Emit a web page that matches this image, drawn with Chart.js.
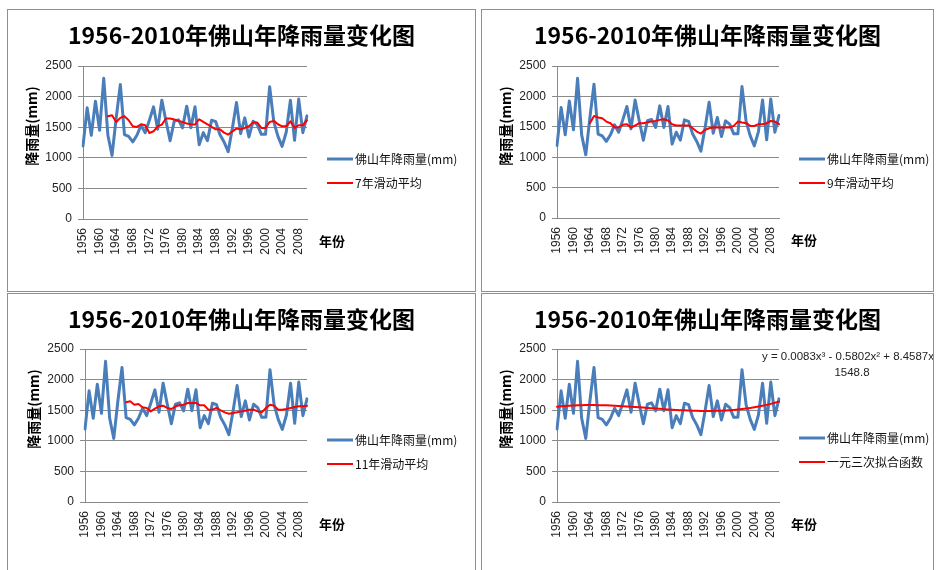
<!DOCTYPE html>
<html>
<head>
<meta charset="utf-8">
<script src="https://cdn.jsdelivr.net/npm/chart.js@4.4.1/dist/chart.umd.min.js"></script>
<style>
  html, body { margin: 0; padding: 0; background: #fff; }
  body { position: relative; width: 937px; height: 570px; overflow: hidden; }
  .panel { position: absolute; box-sizing: border-box; border: 1px solid #8f8f8f; background: #fff; overflow: hidden; }
  .panel canvas { position: absolute; left: 0; top: 0; }
</style>
</head>
<body>
<div class="panel" style="left:7px;top:9px;width:469px;height:283px"><canvas id="c1" width="467" height="281"></canvas></div>
<div class="panel" style="left:481px;top:9px;width:453px;height:283px"><canvas id="c2" width="451" height="281"></canvas></div>
<div class="panel" style="left:7px;top:293px;width:469px;height:290px"><canvas id="c3" width="467" height="276"></canvas></div>
<div class="panel" style="left:481px;top:293px;width:453px;height:290px"><canvas id="c4" width="451" height="276"></canvas></div>
<script>
// Years on the category axis
const years = [1956,1957,1958,1959,1960,1961,1962,1963,1964,1965,
               1966,1967,1968,1969,1970,1971,1972,1973,1974,1975,
               1976,1977,1978,1979,1980,1981,1982,1983,1984,1985,
               1986,1987,1988,1989,1990,1991,1992,1993,1994,1995,
               1996,1997,1998,1999,2000,2001,2002,2003,2004,2005,
               2006,2007,2008,2009,2010];

// Annual rainfall in Foshan (mm)
const rainfall = [1193,1816,1368,1925,1450,2298,1368,1039,1650,2199,
                  1379,1351,1260,1368,1532,1411,1614,1833,1466,1942,
                  1600,1280,1600,1620,1490,1844,1490,1833,1215,1411,
                  1280,1614,1590,1380,1260,1100,1477,1904,1395,1652,
                  1340,1597,1543,1384,1384,2161,1587,1351,1187,1422,
                  1942,1286,1959,1411,1685];

// 7-year moving average, 1962–2010
const ma7 = [1679,1696,1586,1652,1679,1614,1515,1504,1548,1532,
             1406,1433,1515,1543,1641,1641,1625,1603,1586,1559,
             1548,1543,1630,1586,1548,1504,1466,1466,1411,
             1379,1433,1477,1466,1488,1515,1575,1575,1488,1488,
             1586,1603,1548,1515,1515,1597,1488,1532,1532,1614];

// 9-year moving average, 1964–2010
const ma9 = [1559,1679,1652,1641,1586,1559,1493,1488,1532,1543,
             1488,1521,1559,1559,1575,1586,1597,1614,1625,1603,
             1543,1521,1521,1521,1521,1477,1422,1389,1450,1477,
             1493,1488,1488,1488,1488,1515,1586,1570,1559,1515,
             1515,1543,1543,1559,1597,1586,1543];

// 11-year moving average, 1966–2010
const ma11 = [1629,1645,1590,1601,1547,1536,1481,1525,1563,1574,
              1536,1520,1563,1580,1590,1618,1618,1618,1580,1580,
              1509,1509,1536,1498,1465,1443,1454,1465,1481,1492,
              1509,1509,1481,1465,1536,1590,1574,1509,1509,1520,
              1536,1552,1563,1563,1574];

// Cubic trend y = 0.0083x³ - 0.5802x² + 8.4587x + 1548.8, x = 1..55
const cubicFit = [1556.7,1563.5,1569.2,1573.9,1577.6,1580.5,1582.4,1583.6,1584.0,1583.7,
                  1582.7,1581.1,1578.9,1576.3,1573.2,1569.6,1565.7,1561.5,1557.0,1552.3,
                  1547.4,1542.5,1537.4,1532.4,1527.3,1522.4,1517.6,1513.0,1508.6,1504.5,
                  1500.7,1497.3,1494.4,1491.9,1490.0,1488.6,1487.9,1487.9,1488.6,1490.0,
                  1492.3,1495.5,1499.6,1504.7,1510.9,1518.1,1526.4,1536.0,1546.7,1558.7,
                  1572.1,1586.8,1603.0,1620.7,1639.8];

// Value axis ticks and labelled years
const yTicks = [0, 500, 1000, 1500, 2000, 2500];
const xTickYears = [1956,1960,1964,1968,1972,1976,1980,1984,1988,1992,1996,2000,2004,2008];

const TITLE = '1956-2010年佛山年降雨量变化图';
const SERIES_NAME = '佛山年降雨量(mm)';
const Y_TITLE = '降雨量(mm)';
const X_TITLE = '年份';
const EQUATION = ['y = 0.0083x³ - 0.5802x² + 8.4587x', '1548.8'];

const CJK = '"Noto Sans CJK SC", "Liberation Sans", sans-serif';
const LATIN = '"Liberation Sans", Arial, sans-serif';
const BLUE = '#4A7EBB';
const RED = '#FF0000';
const GRID = '#8a8a8a';

// Place a series that starts later than 1956 onto the full year axis
function alignToYears(values, firstYear) {
  return years.map(y => {
    const i = y - firstYear;
    return i >= 0 && i < values.length ? values[i] : null;
  });
}

// Title, axis titles, legend and equation text around the plot
const decor = {
  id: 'decor',
  afterDraw(chart, args, o) {
    const { ctx, chartArea: a, width } = chart;
    ctx.save();
    ctx.fillStyle = '#000';
    ctx.textBaseline = 'middle';

    ctx.font = 'bold 23px ' + CJK;
    ctx.textAlign = 'center';
    ctx.fillText(TITLE, width / 2, 25);

    ctx.save();
    ctx.translate(a.left - 51, a.top + 60);
    ctx.rotate(-Math.PI / 2);
    ctx.font = 'bold 14px ' + CJK;
    ctx.fillText(Y_TITLE, 0, 0);
    ctx.restore();

    ctx.font = 'bold 13px ' + CJK;
    ctx.textAlign = 'left';
    ctx.fillText(X_TITLE, a.right + 12, a.bottom + 22);

    chart.data.datasets.forEach((ds, i) => {
      const y = a.top + o.legendDy + i * 24;
      ctx.strokeStyle = ds.borderColor;
      ctx.lineWidth = ds.borderWidth;
      ctx.beginPath();
      ctx.moveTo(a.right + 20, y);
      ctx.lineTo(a.right + 46, y);
      ctx.stroke();
      ctx.fillStyle = '#111';
      ctx.font = '12px ' + CJK;
      ctx.fillText(ds.label, a.right + 48, y);
    });

    if (o.equation) {
      ctx.fillStyle = '#222';
      ctx.font = '11px ' + LATIN;
      const w = ctx.measureText(o.equation[0]).width;
      const size = 11 * 172 / w;
      ctx.font = size.toFixed(2) + 'px ' + LATIN;
      ctx.textAlign = 'left';
      ctx.fillText(o.equation[0], 280, 63);
      ctx.textAlign = 'center';
      ctx.fillText(o.equation[1], 370, 79);
    }
    ctx.restore();
  }
};

function makeChart(id, trendLabel, trendData, geom) {
  const canvas = document.getElementById(id);
  const W = canvas.width, H = canvas.height;
  const xAxisH = 45;
  return new Chart(canvas, {
    type: 'line',
    data: {
      labels: years,
      datasets: [
        { label: SERIES_NAME, data: rainfall, borderColor: BLUE, backgroundColor: BLUE,
          borderWidth: 3, borderJoinStyle: 'round', borderCapStyle: 'round',
          pointRadius: 0, tension: 0, order: 1 },
        { label: trendLabel, data: trendData, borderColor: RED, backgroundColor: RED,
          borderWidth: 2, borderJoinStyle: 'round', borderCapStyle: 'round',
          pointRadius: 0, tension: 0, spanGaps: false, order: 0 }
      ]
    },
    options: {
      responsive: false,
      animation: false,
      devicePixelRatio: 1,
      layout: { padding: { left: 0, top: geom.top, right: W - geom.right, bottom: H - geom.bottom - xAxisH } },
      plugins: {
        legend: { display: false },
        title: { display: false },
        tooltip: { enabled: false },
        decor: { legendDy: geom.legendDy, equation: geom.equation || null }
      },
      scales: {
        x: {
          type: 'category',
          offset: false,
          grid: { display: false, drawTicks: false },
          border: { display: true, color: GRID, width: 1 },
          ticks: {
            autoSkip: false, maxRotation: 90, minRotation: 90, padding: 9,
            color: '#222', font: { family: LATIN, size: 12 },
            callback(value, index) {
              const yr = years[index];
              return xTickYears.includes(yr) ? String(yr) : null;
            }
          },
          afterFit(scale) { scale.height = xAxisH; }
        },
        y: {
          min: yTicks[0], max: yTicks[yTicks.length - 1],
          grid: { color: GRID, lineWidth: 1, drawTicks: true, tickLength: 5 },
          border: { display: true, color: GRID, width: 1 },
          ticks: { stepSize: yTicks[1] - yTicks[0], padding: 6, color: '#222',
                   font: { family: LATIN, size: 12 },
                   callback: v => String(v) },
          afterFit(scale) { scale.width = geom.left; }
        }
      }
    },
    plugins: [decor]
  });
}

makeChart('c1', '7年滑动平均', alignToYears(ma7, 1962),
          { left: 75, right: 299, top: 56, bottom: 209, legendDy: 93 });
makeChart('c2', '9年滑动平均', alignToYears(ma9, 1964),
          { left: 75, right: 297, top: 56, bottom: 208, legendDy: 93 });
makeChart('c3', '11年滑动平均', alignToYears(ma11, 1966),
          { left: 77, right: 299, top: 55, bottom: 208, legendDy: 91 });
makeChart('c4', '一元三次拟合函数', alignToYears(cubicFit, 1956),
          { left: 75, right: 297, top: 55, bottom: 208, legendDy: 89, equation: EQUATION });
</script>
</body>
</html>
